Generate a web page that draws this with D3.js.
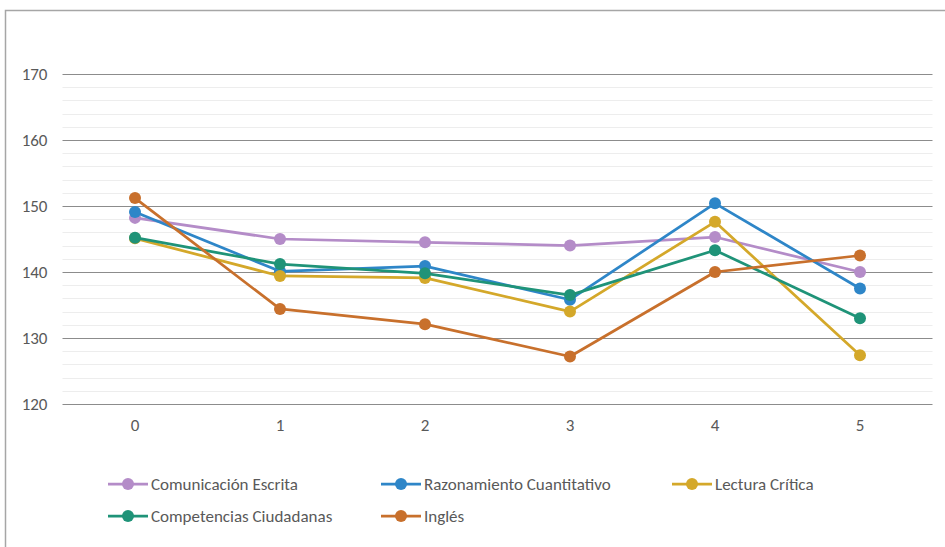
<!DOCTYPE html>
<html>
<head>
<meta charset="utf-8">
<script src="https://cdn.jsdelivr.net/npm/d3@7"></script>
<style>
  body { margin: 0; background: #fff; }
  svg text { font-family: Calibri, Carlito, "Open Sans", "Liberation Sans", sans-serif; fill: #595959; }
</style>
</head>
<body>
<div id="chart"></div>
<script>
// categories on x
const categories = ['0', '1', '2', '3', '4', '5'];
// series
const seriesNames = ['Comunicación Escrita', 'Razonamiento Cuantitativo', 'Lectura Crítica', 'Competencias Ciudadanas', 'Inglés'];
const comunicacion = [148.2, 145.0, 144.5, 144.0, 145.3, 140.0];
const razonamiento = [149.1, 140.1, 140.9, 135.8, 150.4, 137.5];
const lectura = [145.1, 139.4, 139.1, 134.0, 147.6, 127.4];
const competencias = [145.2, 141.2, 139.8, 136.5, 143.3, 133.0];
const ingles = [151.2, 134.4, 132.1, 127.2, 140.0, 142.5];
const yTicks = [120, 130, 140, 150, 160, 170];
const colors = ['#b48cc8', '#2e86c8', '#d4a82a', '#1f9378', '#c8702c'];

const seriesValues = [comunicacion, razonamiento, lectura, competencias, ingles];

const w = 945, h = 547;
const plot = {left: 62.5, right: 932.5, top: 74, bottom: 404};
const fontSize = '17px';

const svg = d3.select('#chart').append('svg')
  .attr('width', w)
  .attr('height', h);

// chart frame
svg.append('path')
  .attr('d', 'M5.5,' + h + 'V10.5H' + w)
  .attr('fill', 'none')
  .attr('stroke', '#a6a6a6')
  .attr('stroke-width', 1.5);

const x = d3.scaleBand().domain(categories).range([plot.left, plot.right]);
const y = d3.scaleLinear().domain([120, 170]).range([plot.bottom, plot.top]);

// minor gridlines
svg.append('g')
  .selectAll('line')
  .data(d3.range(122, 170, 2).filter(v => v % 10 !== 0))
  .enter().append('line')
  .attr('x1', plot.left).attr('x2', plot.right)
  .attr('y1', d => Math.round(y(d)) + 0.5).attr('y2', d => Math.round(y(d)) + 0.5)
  .attr('stroke', '#ededed')
  .attr('stroke-width', 1);

// y axis with major gridlines
const yAxis = d3.axisLeft(y).tickValues(yTicks).tickSize(-(plot.right - plot.left)).tickPadding(15);
svg.append('g')
  .attr('transform', 'translate(' + plot.left + ',0)')
  .call(yAxis)
  .call(g => g.select('.domain').remove())
  .call(g => g.selectAll('.tick line').attr('stroke', '#8c8c8c').attr('stroke-width', 1))
  .call(g => g.selectAll('.tick text').style('font-size', fontSize));

// x axis
const xAxis = d3.axisBottom(x).tickSize(0).tickPadding(15);
svg.append('g')
  .attr('transform', 'translate(0,' + plot.bottom + ')')
  .call(xAxis)
  .call(g => g.select('.domain').remove())
  .call(g => g.selectAll('.tick text').style('font-size', fontSize));

const line = d3.line()
  .x((d, i) => x(categories[i]) + x.bandwidth() / 2)
  .y(d => y(d));

seriesValues.forEach((vals, s) => {
  const g = svg.append('g');
  g.append('path')
    .datum(vals)
    .attr('d', line)
    .attr('fill', 'none')
    .attr('stroke', colors[s])
    .attr('stroke-width', 2.75)
    .attr('stroke-linejoin', 'round');
  g.selectAll('circle')
    .data(vals)
    .enter().append('circle')
    .attr('cx', (d, i) => x(categories[i]) + x.bandwidth() / 2)
    .attr('cy', d => y(d))
    .attr('r', 6)
    .attr('fill', colors[s]);
});

// legend
const legendPos = [[108, 484], [381, 484], [672, 484], [108, 516], [381, 516]];
seriesNames.forEach((name, s) => {
  const lg = svg.append('g').attr('transform', 'translate(' + legendPos[s][0] + ',' + legendPos[s][1] + ')');
  lg.append('line')
    .attr('x1', 0).attr('x2', 40)
    .attr('y1', 0).attr('y2', 0)
    .attr('stroke', colors[s])
    .attr('stroke-width', 2.75);
  lg.append('circle')
    .attr('cx', 20).attr('cy', 0).attr('r', 6)
    .attr('fill', colors[s]);
  lg.append('text')
    .attr('x', 43).attr('y', 0)
    .attr('dy', '0.35em')
    .style('font-size', fontSize)
    .text(name);
});
</script>
</body>
</html>
